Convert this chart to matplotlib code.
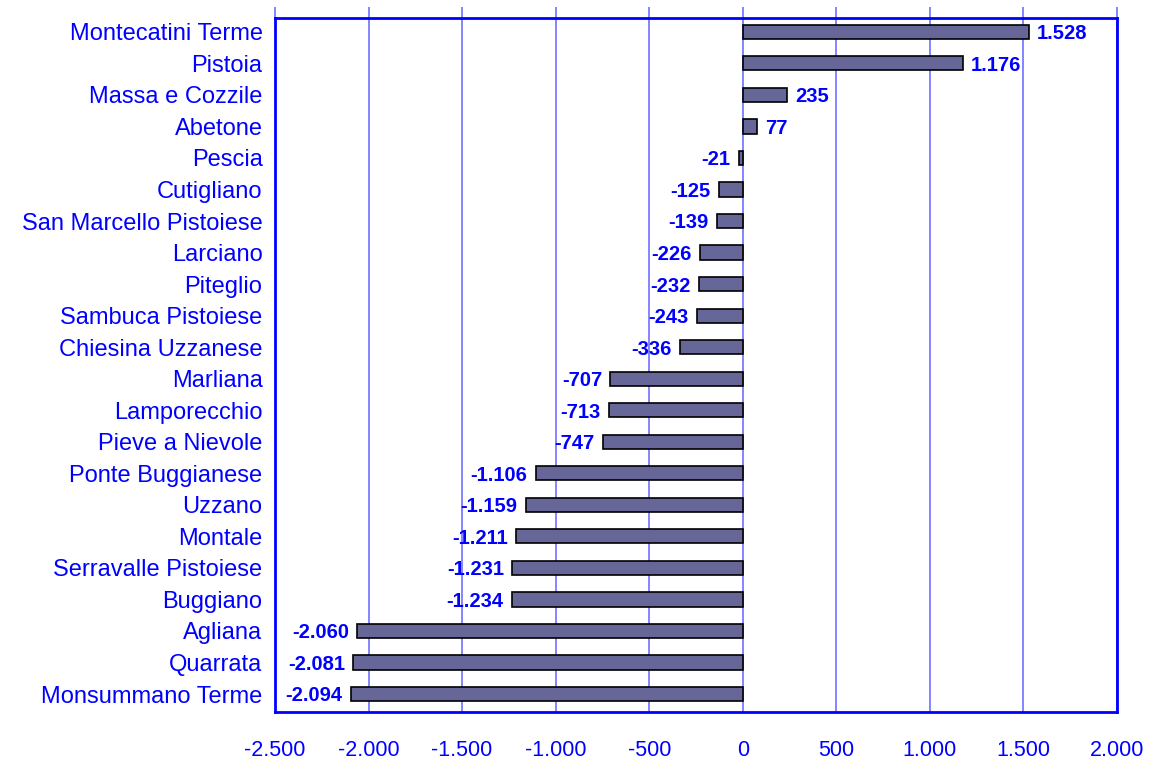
import matplotlib.pyplot as plt
from matplotlib.ticker import FuncFormatter

plt.rcParams['font.family'] = ['Liberation Sans', 'DejaVu Sans']

# dati
comuni = ["Montecatini Terme", "Pistoia", "Massa e Cozzile", "Abetone", "Pescia",
          "Cutigliano", "San Marcello Pistoiese", "Larciano", "Piteglio",
          "Sambuca Pistoiese", "Chiesina Uzzanese", "Marliana", "Lamporecchio",
          "Pieve a Nievole", "Ponte Buggianese", "Uzzano", "Montale",
          "Serravalle Pistoiese", "Buggiano", "Agliana", "Quarrata",
          "Monsummano Terme"]
valori = [1528, 1176, 235, 77, -21, -125, -139, -226, -232, -243, -336,
          -707, -713, -747, -1106, -1159, -1211, -1231, -1234, -2060,
          -2081, -2094]
x_ticks = [-2500, -2000, -1500, -1000, -500, 0, 500, 1000, 1500, 2000]


def fmt_it(v):
    # separatore delle migliaia con il punto
    s = f"{abs(int(v)):,}".replace(",", ".")
    return ("-" if v < 0 else "") + s


blu = "#0000ff"
fig = plt.figure(figsize=(11.5, 7.6), dpi=100)
ax = fig.add_axes([275 / 1150, 48 / 760, 842 / 1150, 694 / 760])

y = list(range(len(comuni)))
ax.barh(y, valori, height=0.45, color="#666699", edgecolor="black",
        linewidth=1.2, zorder=3)

# etichette valori
for yi, v in zip(y, valori):
    if v >= 0:
        ax.text(v + 45, yi + 0.06, fmt_it(v), ha="left", va="center",
                fontsize=14.5, fontweight="bold", color=blu, zorder=4)
    else:
        ax.text(v - 45, yi + 0.06, fmt_it(v), ha="right", va="center",
                fontsize=14.5, fontweight="bold", color=blu, zorder=4)

ax.set_xlim(-2500, 2000)
ax.set_ylim(21.57, -0.44)
ax.set_xticks(x_ticks)
ax.xaxis.set_major_formatter(FuncFormatter(lambda v, p: fmt_it(v)))
ax.set_yticks(y)
ax.set_yticklabels(comuni)

ax.grid(True, axis="x", color="#6f6fff", linewidth=1.2, zorder=0)
ax.tick_params(axis="y", length=0, pad=9, labelsize=17, labelcolor=blu)
ax.tick_params(axis="x", which="both", bottom=False, top=True, labelbottom=True,
               length=8, width=1.2, color="#6f6fff", direction="out",
               labelsize=15.5, labelcolor=blu, pad=12)
for s in ax.spines.values():
    s.set_color(blu)
    s.set_linewidth(2)

plt.savefig("out.png", dpi=100)
